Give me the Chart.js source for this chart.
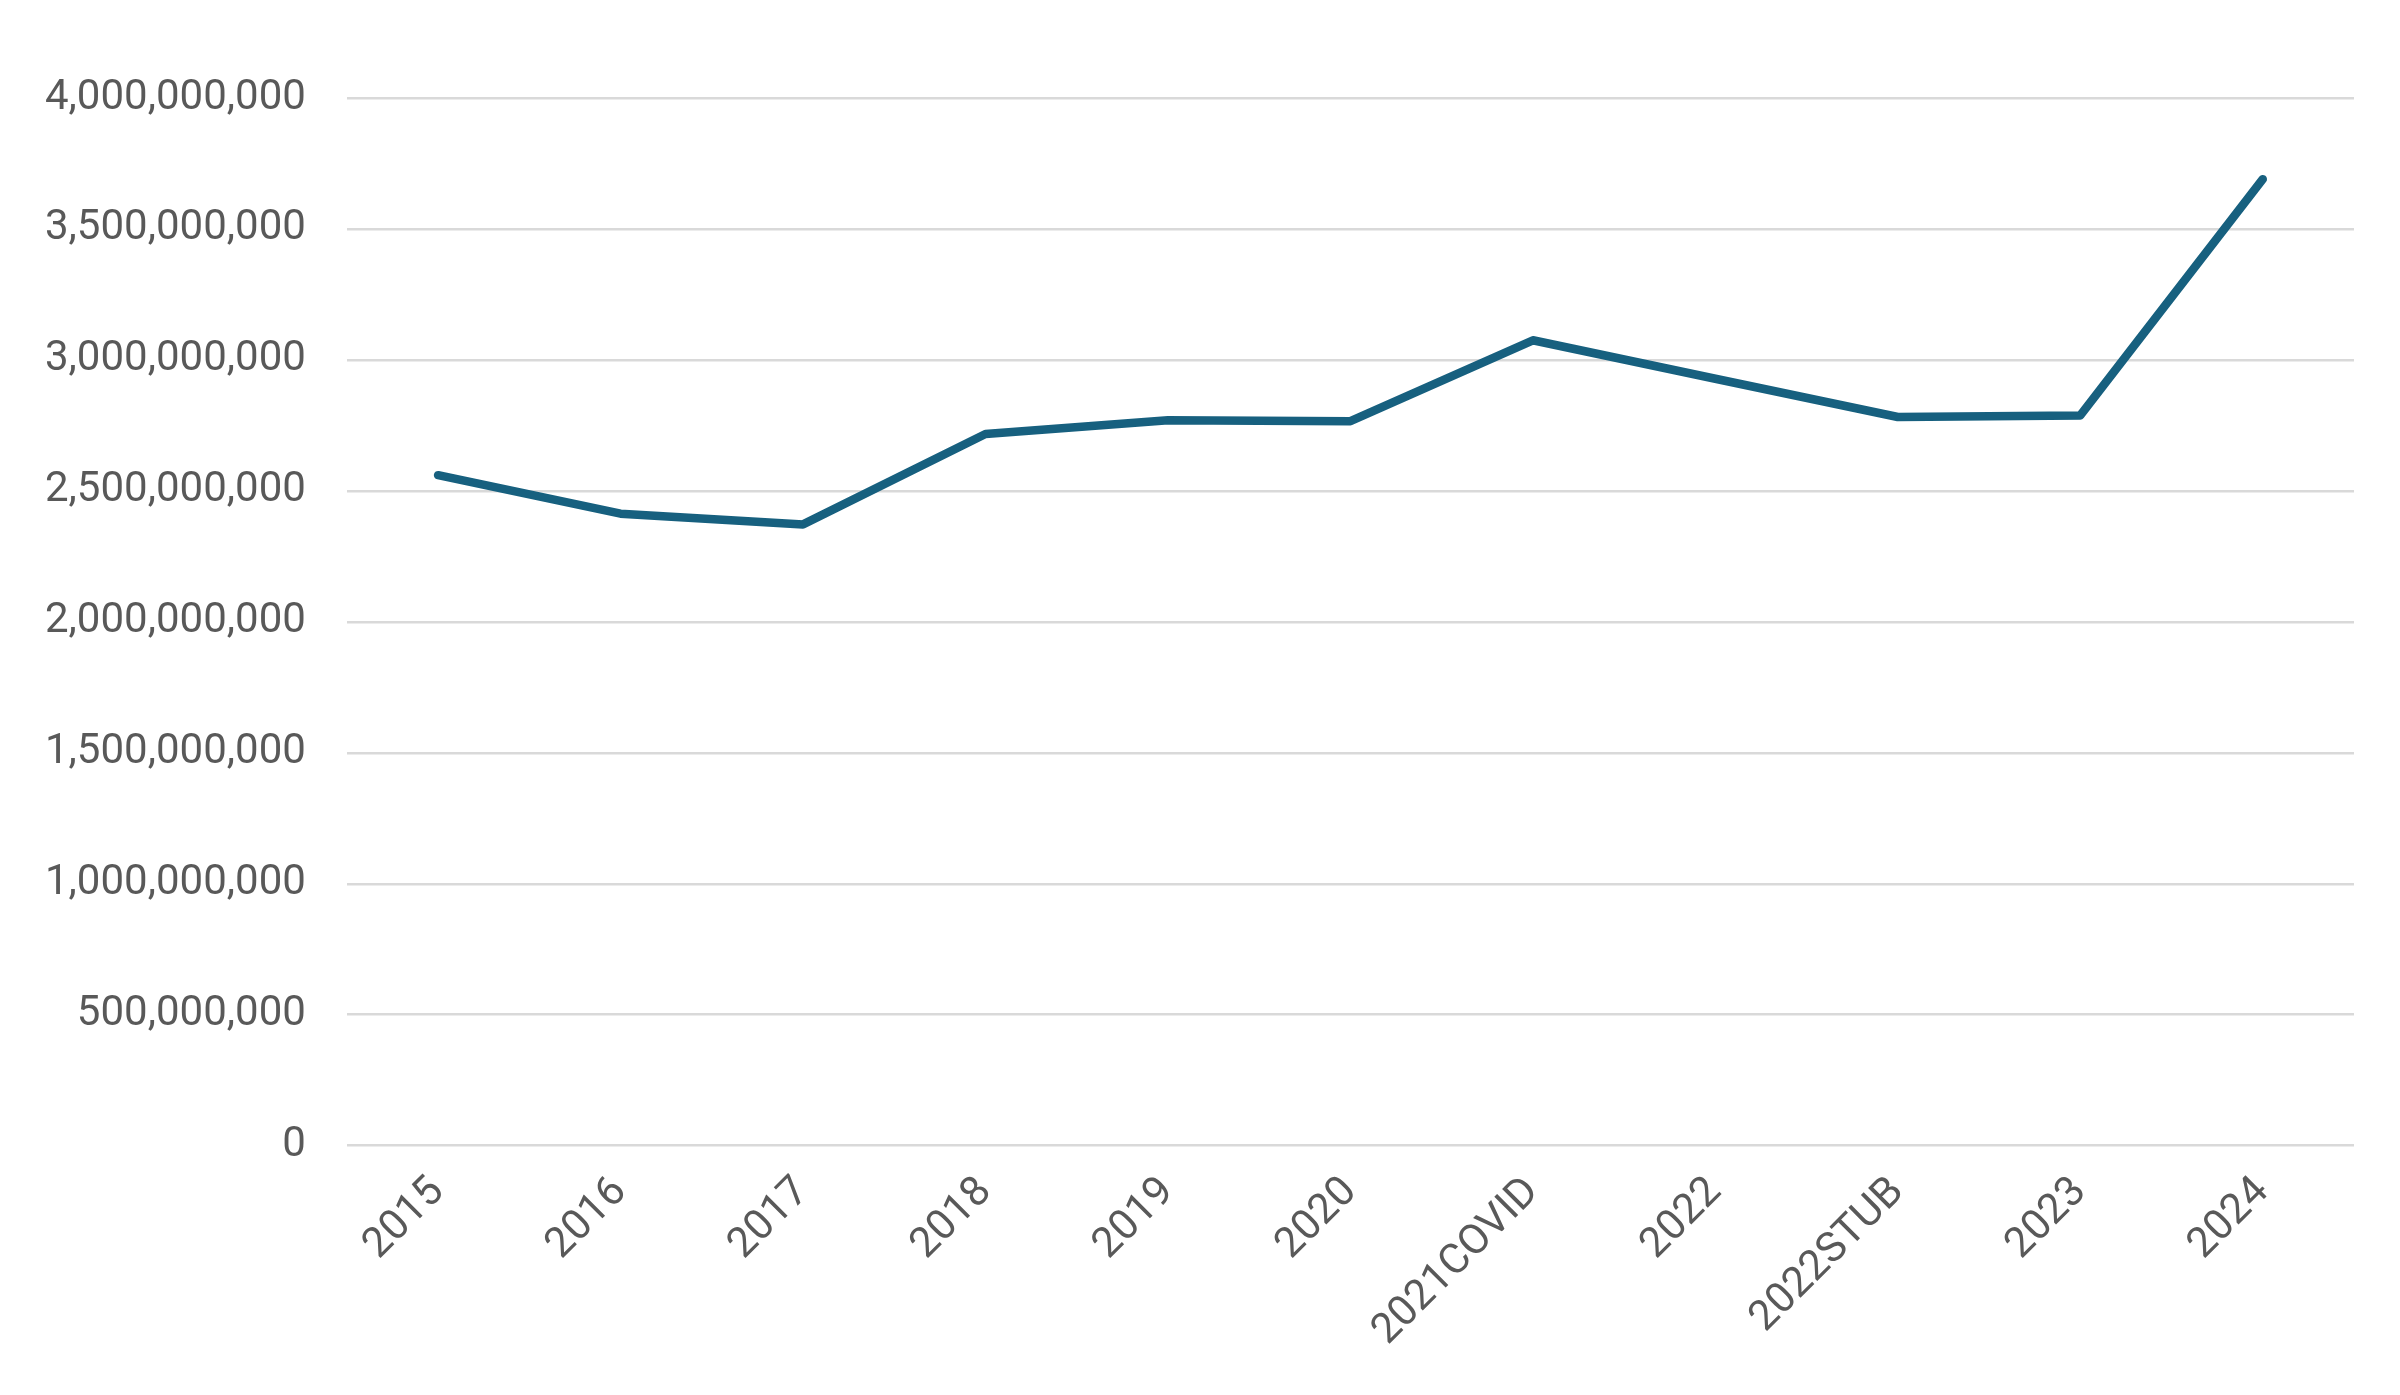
<!DOCTYPE html>
<html>
<head>
<meta charset="utf-8">
<script src="https://cdn.jsdelivr.net/npm/chart.js@4.4.1/dist/chart.umd.min.js"></script>
<style>
  html, body { margin: 0; padding: 0; background: #ffffff; }
  #wrap { width: 2400px; height: 1395px; position: relative; }
</style>
</head>
<body>
<div id="wrap"><canvas id="c" width="2400" height="1395"></canvas></div>
<script>
const categories = ["2015", "2016", "2017", "2018", "2019", "2020", "2021COVID", "2022", "2022STUB", "2023", "2024"];
const values = [2560000000, 2413000000, 2372000000, 2717000000, 2770000000, 2766000000, 3075000000, 2928000000, 2782000000, 2788000000, 3690000000];
const yTicks = [0, 500000000, 1000000000, 1500000000, 2000000000, 2500000000, 3000000000, 3500000000, 4000000000];

const fontFamily = "Roboto, 'Liberation Sans', sans-serif";

new Chart(document.getElementById('c'), {
  type: 'line',
  data: {
    labels: categories,
    datasets: [{
      data: values,
      borderColor: '#17607f',
      backgroundColor: '#17607f',
      borderWidth: 8.5,
      pointRadius: 0,
      tension: 0,
      borderCapStyle: 'round',
      borderJoinStyle: 'round',
      fill: false
    }]
  },
  options: {
    responsive: false,
    animation: false,
    devicePixelRatio: 1,
    layout: { padding: { left: 4, right: 46, top: 98, bottom: 17 } },
    plugins: { legend: { display: false }, tooltip: { enabled: false } },
    scales: {
      x: {
        offset: true,
        grid: { display: false, drawTicks: false },
        border: { display: false },
        ticks: {
          autoSkip: false,
          maxRotation: 45,
          minRotation: 45,
          padding: 22,
          color: '#595959',
          font: { family: fontFamily, size: 42 }
        }
      },
      y: {
        min: 0,
        max: 4000000000,
        afterBuildTicks: (axis) => { axis.ticks = yTicks.map(v => ({ value: v })); },
        grid: { color: '#d9d9d9', lineWidth: 2.5, drawTicks: false },
        border: { display: false },
        ticks: {
          padding: 41,
          color: '#595959',
          font: { family: fontFamily, size: 42 },
          callback: (v) => Number(v).toLocaleString('en-US')
        }
      }
    }
  }
});
</script>
</body>
</html>
